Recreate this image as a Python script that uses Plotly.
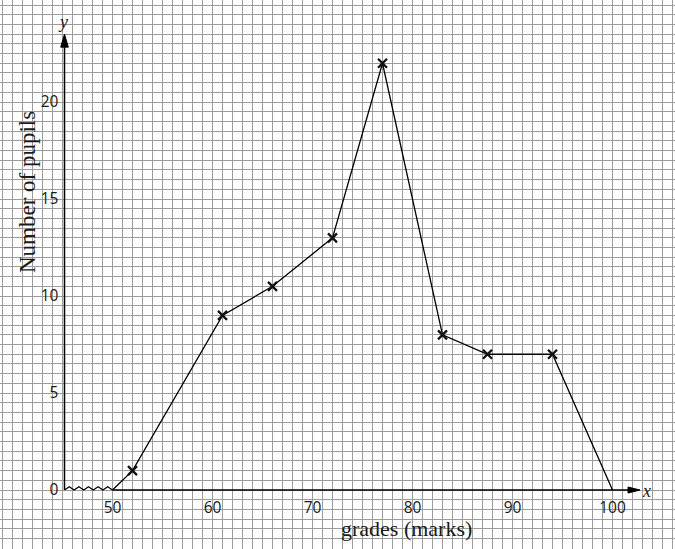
import plotly.graph_objects as go

# ---- data ----
grades = [50, 52, 61, 66, 72, 77, 83, 87.5, 94, 100]
pupils = [0, 1, 9, 10.5, 13, 22, 8, 7, 7, 0]
marked = [False, True, True, True, True, True, True, True, True, False]
x_ticks = [50, 60, 70, 80, 90, 100]
y_ticks = [0, 5, 10, 15, 20]
break_x = [45.2, 45.68, 46.16, 46.64, 47.12, 47.6, 48.08, 48.56, 49.04, 49.52, 50.0]
break_y = [0, 0.17, 0, 0.17, 0, 0.17, 0, 0.17, 0, 0.17, 0]

# ---- view geometry ----
X_MIN, X_MAX = 38.75, 106.25
Y_MIN, Y_MAX = -3.04, 25.26
Y_AXIS_AT = 45.2
X_ARROW_TIP = 102.75
Y_ARROW_TIP = 23.5
W, H = 675, 549
px_x = W / (X_MAX - X_MIN)
px_y = H / (Y_MAX - Y_MIN)

fig = go.Figure()

# polygon line
fig.add_trace(go.Scatter(x=grades, y=pupils, mode="lines",
                         line=dict(color="black", width=1.3), hoverinfo="skip"))
# markers
fig.add_trace(go.Scatter(x=[g for g, m in zip(grades, marked) if m],
                         y=[p for p, m in zip(pupils, marked) if m],
                         mode="markers",
                         marker=dict(symbol="x-thin", size=9, color="black",
                                     line=dict(color="#111", width=2.3))))
# axis break zigzag
fig.add_trace(go.Scatter(x=break_x, y=break_y, mode="lines",
                         line=dict(color="black", width=1.2)))

# axis lines
head_len_x = 12 / px_x
head_len_y = 13 / px_y
fig.add_shape(type="line", x0=50, y0=0, x1=X_ARROW_TIP - head_len_x, y1=0,
              line=dict(color="black", width=1.5))
fig.add_shape(type="line", x0=Y_AXIS_AT, y0=0, x1=Y_AXIS_AT, y1=Y_ARROW_TIP - head_len_y,
              line=dict(color="black", width=1.5))
# arrow heads
hw_x = 3 / px_y
fig.add_trace(go.Scatter(x=[X_ARROW_TIP, X_ARROW_TIP - head_len_x, X_ARROW_TIP - head_len_x, X_ARROW_TIP],
                         y=[0, hw_x, -hw_x, 0], mode="lines", fill="toself",
                         fillcolor="black", line=dict(color="black", width=1)))
hw_y = 3.8 / px_x
fig.add_trace(go.Scatter(x=[Y_AXIS_AT, Y_AXIS_AT - hw_y, Y_AXIS_AT + hw_y, Y_AXIS_AT],
                         y=[Y_ARROW_TIP, Y_ARROW_TIP - head_len_y, Y_ARROW_TIP - head_len_y, Y_ARROW_TIP],
                         mode="lines", fill="toself",
                         fillcolor="black", line=dict(color="black", width=1)))

serif = "Liberation Serif"
ann = [
    dict(x=41.45, y=15.36, text="Number of pupils", textangle=-90,
         font=dict(family=serif, size=23, color="#1a1a1a")),
    dict(x=79.35, y=-2.0, text="grades (marks)",
         font=dict(family=serif, size=22, color="#1a1a1a")),
    dict(x=45.0, y=24.15, text="<i>y</i>",
         font=dict(family=serif, size=18, color="#1a1a1a")),
    dict(x=103.35, y=-0.05, text="<i>x</i>",
         font=dict(family=serif, size=18, color="#1a1a1a")),
]
for a in ann:
    fig.add_annotation(showarrow=False, xref="x", yref="y", **a)

grid = "#9c9c9c"
tickfont = dict(family="Open Sans", size=15.5, color="#1a1a1a")
fig.update_layout(
    width=W, height=H, margin=dict(l=0, r=0, t=0, b=0),
    paper_bgcolor="white", plot_bgcolor="white", showlegend=False,
    xaxis=dict(range=[X_MIN, X_MAX], tickvals=x_ticks, showgrid=True,
               gridcolor=grid, gridwidth=1, zeroline=False, showline=False,
               anchor="free", position=(0 - Y_MIN) / (Y_MAX - Y_MIN),
               ticks="outside", ticklen=3, tickcolor="rgba(0,0,0,0)",
               tickfont=tickfont,
               minor=dict(tick0=50, dtick=1, showgrid=True, gridcolor=grid, gridwidth=1)),
    yaxis=dict(range=[Y_MIN, Y_MAX], tickvals=y_ticks, showgrid=True,
               gridcolor=grid, gridwidth=1, zeroline=False, showline=False,
               anchor="free", position=(Y_AXIS_AT - X_MIN) / (X_MAX - X_MIN),
               ticks="outside", ticklen=3, tickcolor="rgba(0,0,0,0)",
               tickfont=tickfont,
               minor=dict(tick0=0, dtick=0.5, showgrid=True, gridcolor=grid, gridwidth=1)),
)

fig.write_html("out.html", config={"displayModeBar": False},
               post_script="document.body.style.margin='0px';document.body.style.overflow='hidden';")
